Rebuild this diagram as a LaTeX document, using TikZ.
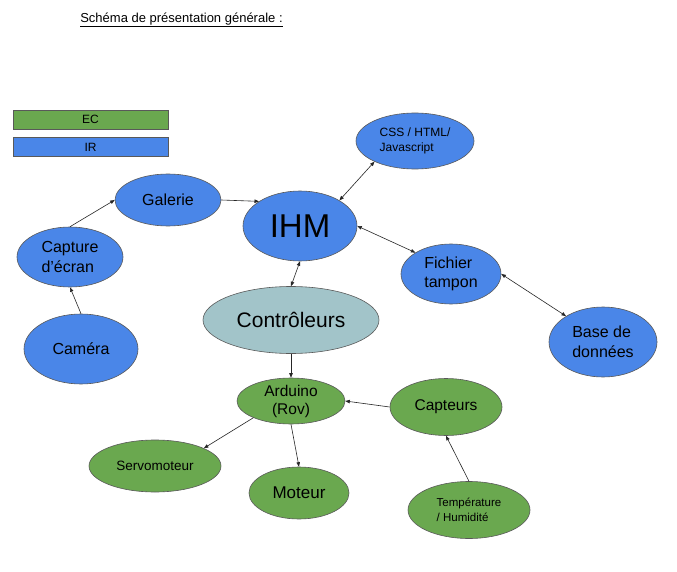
\documentclass[tikz,border=0pt]{standalone}
\usepackage{fontspec}
\setmainfont{Liberation Sans}
\usetikzlibrary{shapes.geometric,arrows.meta}
\definecolor{irblue}{HTML}{4A86E8}
\definecolor{ecgreen}{HTML}{6AA84F}
\definecolor{ctrlgrey}{HTML}{A2C4C9}
\definecolor{edgegrey}{HTML}{595959}
\newcommand{\fs}[2]{\fontsize{#1}{#2}\selectfont}
\tikzset{
  bub/.style={ellipse, draw=edgegrey, line width=0.6pt, inner sep=0pt, text=black},
  ir/.style={bub, fill=irblue},
  ec/.style={bub, fill=ecgreen},
  legendbox/.style={rectangle, draw=edgegrey, line width=0.6pt, inner sep=0pt,
    minimum width=155pt, minimum height=19pt, font=\fs{12}{14}},
  link/.style={draw=black!85, line width=0.6pt, -{Triangle[length=4.5pt,width=3.5pt]}},
  dlink/.style={draw=black!85, line width=0.6pt, {Triangle[length=4.5pt,width=3.5pt]}-{Triangle[length=4.5pt,width=3.5pt]}}
}
\begin{document}
\begin{tikzpicture}[x=1pt,y=-1pt]
\useasboundingbox[fill=white] (0,0) rectangle (677,572);
\node[font=\fs{13}{15}] (title) at (181.5,20) {\underline{Schéma de présentation générale :}};
\node[legendbox, fill=ecgreen] (lec) at (90.5,119.5) {EC};
\node[legendbox, fill=irblue] (lir) at (90.5,147) {IR};

\node[ir, minimum width=118pt, minimum height=56pt, align=left, font=\fs{12}{15}] (css) at (415,141) {CSS / HTML/\\Javascript};
\node[ir, minimum width=114pt, minimum height=70pt, font=\fs{33}{38}] (ihm) at (300,226) {IHM};
\node[ir, minimum width=106pt, minimum height=52pt, font=\fs{16}{19}] (gal) at (168,200) {Galerie};
\node[ir, minimum width=106pt, minimum height=60pt, align=left, font=\fs{16}{19.5}] (cap) at (70,257) {Capture\\d’écran};
\node[ir, minimum width=114pt, minimum height=70pt, font=\fs{16}{19}] (cam) at (81,349) {Caméra};
\node[bub, fill=ctrlgrey, minimum width=176pt, minimum height=67pt, font=\fs{21}{25}] (ctrl) at (291,320) {Contrôleurs};
\node[ir, minimum width=100pt, minimum height=60pt, align=left, font=\fs{16}{19.5}] (fich) at (451,274) {Fichier\\tampon};
\node[ir, minimum width=108pt, minimum height=70pt, align=left, font=\fs{16}{19.5}] (base) at (603,342) {Base de\\données};
\node[ec, minimum width=108pt, minimum height=46pt, align=center, font=\fs{15.5}{18}] (ard) at (291,401) {Arduino\\(Rov)};
\node[ec, minimum width=112pt, minimum height=57pt, font=\fs{15.5}{18}] (capt) at (446,407) {Capteurs};
\node[ec, minimum width=132pt, minimum height=52pt, font=\fs{13.5}{16}] (servo) at (155,466) {Servomoteur};
\node[ec, minimum width=100pt, minimum height=52pt, font=\fs{17}{20}] (mot) at (299,493) {Moteur};
\node[ec, minimum width=122pt, minimum height=57pt, align=left, font=\fs{11.5}{15}] (temp) at (469,510) {Température\\ / Humidité};

\draw[link] (cap.north) -- (gal.west);
\draw[link] (gal.east) -- (ihm.149);
\draw[link] (cam.north) -- (cap.south);
\draw[dlink] (ihm.south) -- (ctrl.north);
\draw[dlink] (ihm.33) -- (css.207);
\draw[dlink] (ihm.east) -- (fich.149);
\draw[dlink] (fich.east) -- (base.145);
\draw[link] (ctrl.south) -- (ard.north);
\draw[link] (capt.west) -- (ard.east);
\draw[link] (ard.204) -- (servo.20);
\draw[link] (ard.south) -- (mot.north);
\draw[link] (temp.north) -- (capt.south);
\end{tikzpicture}
\end{document}
